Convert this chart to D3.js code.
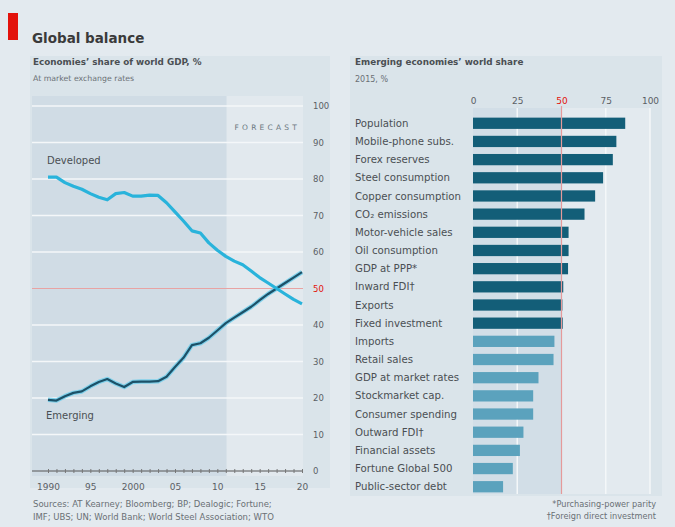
<!DOCTYPE html>
<html><head><meta charset="utf-8">
<script src="https://cdn.jsdelivr.net/npm/d3@7"></script>
<style>
body{margin:0;background:#e3eaef;}
svg{display:block;font-family:"DejaVu Sans",sans-serif;}
</style></head><body>
<svg id="c" width="675" height="527"></svg>
<script>
const years = d3.range(1990, 2021);
const developed = [80.5,80.5,79,78,77.2,76,75,74.3,76,76.3,75.3,75.3,75.6,75.5,73.5,71,68.5,65.8,65.2,62.5,60.5,58.8,57.5,56.5,54.8,53,51.5,50,48.5,47,45.8];
const emerging = [19.5,19.3,20.5,21.4,21.8,23.2,24.4,25.2,24,23,24.4,24.5,24.5,24.6,25.8,28.5,31,34.5,35,36.5,38.5,40.5,42,43.5,45,46.8,48.5,50,51.5,53,54.5];
const yTicks = [0,10,20,30,40,50,60,70,80,90,100];
const xTickYears = [1990,1995,2000,2005,2010,2015,2020];
const xTickLabels = ["1990","95","2000","05","10","15","20"];
const forecastStart = 2011.1;

const categories = ["Population","Mobile-phone subs.","Forex reserves","Steel consumption","Copper consumption","CO\u2082 emissions","Motor-vehicle sales","Oil consumption","GDP at PPP*","Inward FDI\u2020","Exports","Fixed investment","Imports","Retail sales","GDP at market rates","Stockmarket cap.","Consumer spending","Outward FDI\u2020","Financial assets","Fortune Global 500","Public-sector debt"];
const shares = [86,81,79,73.5,69,63,54,54,53.7,51,50.5,50.7,46,45.5,37,34,34,28.5,26.5,22.5,17];
const barTicks = [0,25,50,75,100];

const svg = d3.select("#c");
const red = "#e3120b";
const txt = "#4a4f53";

// header
svg.append("rect").attr("x",8).attr("y",13).attr("width",10).attr("height",27).attr("fill",red);
svg.append("text").attr("x",32).attr("y",43).text("Global balance")
  .attr("font-size",13.5).attr("font-weight",700).attr("fill","#3a3a3a");

// ---------- LEFT CHART ----------
svg.append("rect").attr("x",30).attr("y",56).attr("width",300).attr("height",432).attr("fill","#dae4ea");
svg.append("text").attr("x",33).attr("y",65).text("Economies\u2019 share of world GDP, %")
  .attr("font-size",8.8).attr("font-weight",700).attr("fill",txt);
svg.append("text").attr("x",33).attr("y",81).text("At market exchange rates")
  .attr("font-size",7.8).attr("fill","#6a7075");

const x = d3.scaleLinear().domain([1990,2020]).range([48,302]);
const y = d3.scaleLinear().domain([0,100]).range([471,106]);
const plotL = 32, plotR = 303;

svg.append("rect").attr("x",plotL).attr("y",96).attr("width",x(forecastStart)-plotL).attr("height",380).attr("fill","#d0dce5");
svg.append("rect").attr("x",x(forecastStart)).attr("y",96).attr("width",plotR-x(forecastStart)).attr("height",380).attr("fill","#e2e9ee");

// gridlines
svg.selectAll(".g").data(yTicks.filter(d=>d>0)).enter().append("line")
  .attr("x1",plotL).attr("x2",plotR).attr("y1",d=>y(d)).attr("y2",d=>y(d))
  .attr("stroke",d=>d===50?"#e8a3a3":"#f4f7f9").attr("stroke-width",d=>d===50?1.2:1.5);

svg.append("text").attr("x",300).attr("y",130).attr("text-anchor","end").text("FORECAST")
  .attr("font-size",7.5).attr("letter-spacing",3.2).attr("fill","#6b7780");

// right axis labels
svg.append("g").attr("transform","translate(313,0)")
  .call(d3.axisRight(y).tickValues(yTicks).tickSize(0).tickPadding(0))
  .call(g=>g.select(".domain").remove())
  .call(g=>g.selectAll("text").attr("font-size",8.5).attr("fill",d=>d===50?red:"#5a6065").attr("font-family","DejaVu Sans,sans-serif"));

// x axis
const xa = svg.append("g").attr("transform",`translate(0,${y(0)})`)
  .call(d3.axisBottom(x).tickValues(years).tickSize(4).tickFormat(""));
xa.select(".domain").attr("stroke","#555").attr("d",`M${plotL},0H${plotR}`);
xa.selectAll("line").attr("stroke","#777").attr("y1",-2).attr("y2",2);
svg.append("g").attr("transform",`translate(0,${y(0)+10})`)
  .call(d3.axisBottom(x).tickValues(xTickYears).tickSize(0).tickFormat((d,i)=>xTickLabels[i]))
  .call(g=>g.select(".domain").remove())
  .call(g=>g.selectAll("text").attr("font-size",9).attr("fill","#5a6065").attr("font-family","DejaVu Sans,sans-serif"));

const line = d3.line().x((d,i)=>x(years[i])).y(d=>y(d)).curve(d3.curveLinear);
svg.append("path").datum(emerging).attr("d",line).attr("fill","none").attr("stroke","#7fd0ea").attr("stroke-width",4.5).attr("stroke-linejoin","round");
svg.append("path").datum(emerging).attr("d",line).attr("fill","none").attr("stroke","#1c5168").attr("stroke-width",2.2).attr("stroke-linejoin","round");
svg.append("path").datum(developed).attr("d",line).attr("fill","none").attr("stroke","#29b3db").attr("stroke-width",3.2).attr("stroke-linejoin","round");

svg.append("text").attr("x",47).attr("y",164).text("Developed").attr("font-size",10).attr("fill",txt);
svg.append("text").attr("x",46).attr("y",419).text("Emerging").attr("font-size",10).attr("fill",txt);

svg.append("text").attr("x",33).attr("y",507).text("Sources: AT Kearney; Bloomberg; BP; Dealogic; Fortune;")
  .attr("font-size",8.5).attr("fill","#6a7075");
svg.append("text").attr("x",33).attr("y",520).text("IMF; UBS; UN; World Bank; World Steel Association; WTO")
  .attr("font-size",8.5).attr("fill","#6a7075");

// ---------- RIGHT CHART ----------
svg.append("rect").attr("x",350).attr("y",56).attr("width",312).attr("height",440).attr("fill","#dae4ea");
svg.append("text").attr("x",355).attr("y",65).text("Emerging economies\u2019 world share")
  .attr("font-size",8.8).attr("font-weight",700).attr("fill",txt);
svg.append("text").attr("x",355).attr("y",82).text("2015, %").attr("font-size",8).attr("fill","#6a7075");

const bx = d3.scaleLinear().domain([0,100]).range([473,650]);
const by = d3.scaleBand().domain(categories).range([114,496]).paddingInner(0.38).paddingOuter(0.2);

svg.append("rect").attr("x",bx(0)).attr("y",108).attr("width",bx(50)-bx(0)).attr("height",386).attr("fill","#d2dee7");
svg.append("rect").attr("x",bx(50)).attr("y",108).attr("width",bx(100)-bx(50)).attr("height",386).attr("fill","#e3eaef");
svg.selectAll(".vg").data([25,75,100]).enter().append("line")
  .attr("x1",d=>bx(d)).attr("x2",d=>bx(d)).attr("y1",108).attr("y2",494)
  .attr("stroke","#f4f7f9").attr("stroke-width",1.5);

svg.append("g").attr("transform","translate(0,104)")
  .call(d3.axisTop(bx).tickValues(barTicks).tickSize(0).tickPadding(0))
  .call(g=>g.select(".domain").remove())
  .call(g=>g.selectAll("text").attr("font-size",9).attr("fill",d=>d===50?red:"#5a6065").attr("font-family","DejaVu Sans,sans-serif"));

svg.selectAll(".bar").data(shares).enter().append("rect")
  .attr("x",bx(0)).attr("y",(d,i)=>by(categories[i])).attr("height",by.bandwidth())
  .attr("width",d=>bx(d)-bx(0)).attr("fill",d=>d>=50?"#135e78":"#5ba2bd");

svg.append("line").attr("x1",bx(50)).attr("x2",bx(50)).attr("y1",106).attr("y2",494)
  .attr("stroke","#e59a9a").attr("stroke-width",1.2);

svg.append("g").attr("transform",`translate(355,0)`)
  .selectAll("text").data(categories).enter().append("text")
  .attr("x",0).attr("y",d=>by(d)+by.bandwidth()/2).attr("dy","0.35em")
  .text(d=>d).attr("font-size",10.2).attr("fill",txt);

svg.append("text").attr("x",656).attr("y",507).attr("text-anchor","end").text("*Purchasing-power parity")
  .attr("font-size",8.2).attr("fill","#6a7075");
svg.append("text").attr("x",656).attr("y",519).attr("text-anchor","end").text("\u2020Foreign direct investment")
  .attr("font-size",8.2).attr("fill","#6a7075");
</script></body></html>
